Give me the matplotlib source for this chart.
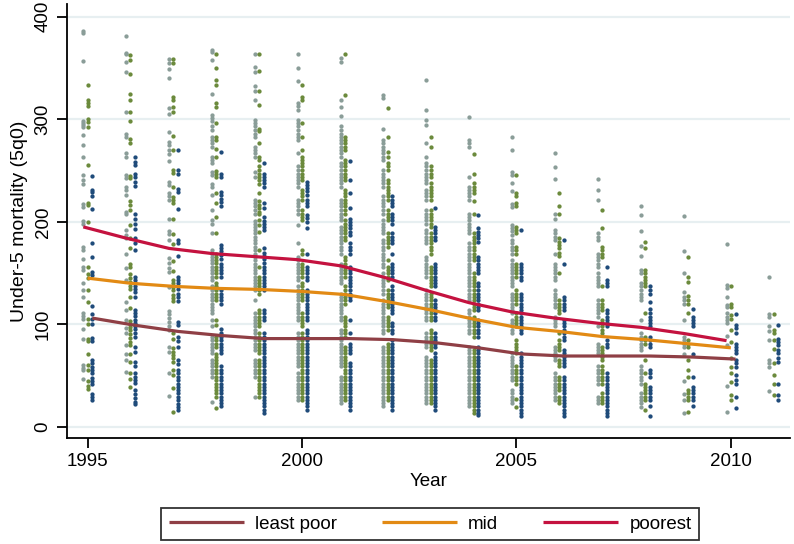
import matplotlib
matplotlib.use("Agg")
import matplotlib.pyplot as plt

years = list(range(1995, 2012))
line_years = list(range(1995, 2011))

poorest_line = [195, 184, 174, 169, 166, 163, 157, 146, 133, 121, 112, 106, 101, 97, 91, 84]
mid_line = [145, 140, 137, 135, 134, 132, 129, 122, 114, 105, 97, 93, 88, 85, 81, 77]
least_line = [106, 99, 93, 89, 86, 86, 86, 85, 82, 77, 71, 69, 69, 69, 68, 66]

poorest_pts = [
    [386,384,357,298,296,294,292,285,275,263,246,241,237,217,214,201,198,175,172,164,156,153,140,133,127,111,108,105,95,86,60,57,55,47],
    [381,365,364,356,346,307,286,283,267,263,246,243,234,231,226,210,208,192,187,184,169,155,143,122,114,104,96,91,80,71,65,53],
    [359,355,349,340,311,305,288,278,275,270,266,259,239,236,228,225,221,203,191,188,182,165,160,155,151,136,113,110,106,102,98,94,78,73,52,30],
    [368,366,358,325,304,301,298,293,290,283,280,277,273,263,260,257,249,246,237,234,226,211,202,198,189,172,169,166,163,160,156,153,150,146,143,137,133,130,127,124,120,117,114,111,104,98,88,85,81,78,75,72,65,62,59,55,52,49,24],
    [364,351,346,332,328,319,299,296,293,290,286,283,273,270,267,263,249,244,221,218,215,211,208,201,198,195,192,189,185,182,179,175,172,169,166,163,159,156,153,150,146,143,140,137,133,124,111,107,104,101,98,94,91,88,85,81,78,75,65,62,59,55,52,49,29],
    [364,350,337,316,313,309,299,296,293,290,286,283,280,267,254,251,247,244,241,238,234,221,218,215,211,208,197,179,166,163,159,156,153,150,146,143,137,133,130,127,124,120,117,114,111,107,104,91,88,85,81,78,75,72,68,65,62,59,52,49,46,42,39,36,33,29,26],
    [360,356,319,312,303,293,290,286,283,280,277,273,270,267,263,257,254,251,247,244,241,238,234,221,218,215,211,208,205,202,195,192,189,185,182,179,175,172,169,159,156,153,150,146,143,140,130,127,124,120,117,114,111,107,104,94,91,88,85,81,78,75,72,68,65,62,59,49,46,42,39,36,33,29,26,23],
    [324,321,291,280,277,273,270,267,263,260,251,247,244,241,238,234,225,221,218,215,211,208,202,198,195,192,189,182,179,175,172,169,166,163,159,156,150,146,143,140,137,133,130,124,120,117,114,111,107,104,101,98,94,91,78,75,72,68,65,62,59,55,52,49,46,42,39,36,33,29,26,23,20],
    [338,309,299,294,277,263,257,254,251,247,244,241,238,231,228,225,221,211,208,205,202,198,192,189,185,182,179,166,163,159,156,153,150,146,133,130,127,124,120,117,114,111,107,104,91,88,85,81,78,68,65,62,59,55,52,49,46,42,39,36,33,29,26,23],
    [302,280,277,273,244,234,231,228,225,221,208,205,202,198,195,192,189,179,175,172,169,166,163,159,156,153,150,146,143,140,137,133,130,127,124,114,111,107,104,101,98,94,91,78,75,72,68,65,62,59,55,52,49,46,42,39,36,33,29,26,23,20],
    [283,270,249,246,238,230,217,214,197,194,191,187,182,179,175,172,169,163,159,156,153,150,146,143,140,137,130,127,124,120,117,114,111,104,101,98,94,91,72,68,65,62,59,55,52,49,46,36,33,29,26,23],
    [267,253,242,208,203,192,189,185,182,169,159,156,153,150,146,143,133,130,127,124,120,117,107,104,101,98,78,75,72,68,65,52,49,46,42,39,36,33,29,26],
    [242,231,221,189,185,182,169,166,163,159,156,150,146,143,140,137,124,120,117,114,111,107,98,81,78,75,72,59,55,52,49,46,42,29,26,23],
    [215,207,191,176,167,153,150,140,137,133,130,127,124,104,91,88,85,81,78,75,59,55,52,49,46,42,33,29,26,23,19],
    [206,171,150,131,127,124,120,104,88,85,81,78,71,45,32,26,13],
    [178,138,135,127,119,117,111,107,104,101,89,80,40,14],
    [146,110,107,98,93,85,65,62,58,35],
]

mid_pts = [
    [333,319,316,313,300,297,292,255,218,216,200,156,149,145,133,122,105,100,86,84,71,60,55,45,40,37],
    [363,358,344,325,319,307,298,281,277,245,243,220,216,211,197,184,174,159,156,149,145,141,137,134,127,116,103,100,97,94,90,87,83,80,71,63,52,47,39],
    [359,355,322,319,312,307,284,270,251,248,234,224,221,218,203,188,178,162,152,143,140,136,133,129,126,123,91,86,77,73,70,67,63,55,50,38,14],
    [364,350,338,333,316,312,296,283,280,271,263,250,247,244,228,218,205,189,169,166,163,160,156,153,150,146,140,137,133,130,127,124,104,99,88,85,81,78,71,68,65,62,59,55,52,49,46,42,39,36,33,29,18],
    [364,347,328,314,291,289,277,263,260,254,251,247,244,241,237,228,220,216,213,210,208,202,197,190,172,156,146,143,140,137,133,130,114,111,107,104,101,98,91,88,85,81,78,75,72,65,62,59,55,52,49,46,42,39,36,33,29],
    [333,322,319,296,283,270,263,260,257,254,251,247,244,241,231,228,225,221,211,208,205,202,172,169,159,156,153,150,146,140,137,133,130,127,124,111,107,104,101,98,91,88,85,81,78,75,72,68,65,62,59,55,52,49,46,42,39,36,33,29,26],
    [364,324,283,280,277,273,270,260,257,254,251,247,244,241,231,228,225,221,218,215,211,208,202,198,195,192,189,185,182,166,163,159,156,153,150,146,137,133,130,127,124,120,107,104,101,98,94,91,88,78,75,72,68,65,62,59,55,52,49,46,42,39,36,33,29,26],
    [311,283,268,263,257,254,251,241,238,234,231,228,225,221,211,208,205,202,189,185,182,179,175,163,156,153,150,146,143,133,130,127,124,120,117,107,104,101,98,94,81,78,75,72,68,65,62,59,55,52,49,46,42,39,36,33,29,26],
    [283,273,254,251,247,244,238,234,231,228,225,221,211,208,205,202,198,195,189,185,182,179,175,172,169,156,153,150,146,143,140,137,130,127,124,120,117,114,111,107,104,94,91,88,85,81,78,75,65,62,59,55,52,49,46,42,39,36,33,29,26,23],
    [266,247,238,234,231,228,220,208,189,185,182,179,175,172,169,166,163,150,146,143,140,137,133,130,127,124,120,117,114,107,104,101,98,94,91,88,75,72,68,65,62,59,55,52,49,46,42,39,36,33,29,26,23,20,16,13],
    [246,228,225,218,215,195,192,189,175,172,169,159,156,153,150,146,133,130,127,124,120,111,107,104,101,98,85,81,78,75,72,59,55,52,49,46,42,27,19],
    [228,215,208,184,180,177,174,170,167,150,124,120,117,114,111,91,85,81,78,75,65,62,59,49,46,42,39,36,29,26,23],
    [211,194,175,172,169,166,137,124,120,117,114,104,101,98,94,91,78,75,72,68,65,59,55,52,49,46,42,33,29,26,23],
    [180,174,153,150,146,143,140,137,111,88,85,81,65,52,42,39,36,33,29,26,16],
    [166,146,141,128,124,120,111,85,81,78,65,55,49,36,33,29,26,14],
    [137,120,117,109,105,94,83,67,58,52,44,31,26],
    [110,94,91,85,76,62,50,42,31],
]

least_pts = [
    [245,231,229,225,212,179,166,151,148,118,110,105,100,87,84,65,62,58,55,52,48,45,42,32,29,26],
    [263,258,255,247,244,239,235,208,203,198,193,184,179,172,146,143,140,137,134,131,127,114,111,108,104,101,98,95,91,88,78,73,63,59,52,49,46,43,36,32,28,24,22],
    [270,251,247,232,229,212,182,179,167,146,143,140,137,134,130,127,123,102,99,88,84,78,65,61,55,52,49,46,42,39,36,33,29,26,22,19,16],
    [268,247,244,229,226,222,219,215,177,174,171,168,164,159,156,153,150,146,133,130,127,124,120,95,91,88,85,81,78,75,72,59,55,52,49,46,42,39,36,33,29,26,23,20],
    [257,247,244,241,238,234,218,213,205,201,198,195,192,174,170,167,164,160,156,153,150,146,143,140,137,133,114,111,107,104,91,88,85,81,78,75,72,68,65,62,59,55,52,49,46,42,39,36,33,29,26,23,20,16,13],
    [239,236,233,230,226,221,218,215,207,204,200,194,169,156,153,150,146,143,133,130,127,124,120,117,114,111,107,104,94,91,88,85,81,78,75,72,68,65,62,59,55,52,49,46,42,39,36,33,29,26,23,20,16],
    [259,241,228,213,203,200,197,194,190,187,179,175,172,169,156,153,150,146,143,140,137,133,130,127,124,104,91,81,78,75,72,62,59,55,52,49,46,42,39,36,33,29,26,23,20,16],
    [225,221,218,215,208,205,202,198,189,185,182,179,169,159,156,153,150,146,137,133,130,127,124,120,117,114,111,101,98,94,91,85,81,78,75,72,68,65,62,59,55,52,49,46,42,39,36,33,29,26,23,20,16],
    [213,195,192,189,185,182,159,156,153,150,146,143,140,137,124,120,117,114,111,107,104,91,88,85,81,78,72,68,65,62,59,55,52,49,46,42,39,36,33,29,26,23,20,16],
    [207,194,190,187,184,180,166,163,159,156,153,150,140,137,133,130,127,124,120,117,114,104,101,98,94,91,88,78,75,72,68,65,62,59,55,52,49,46,42,39,36,33,29,26,23,20,16,13,11],
    [192,159,156,153,150,146,143,130,127,124,120,117,114,111,107,104,101,98,94,91,72,68,65,62,59,55,52,49,46,42,39,36,33,29,26,23,20,16,13,10],
    [182,159,127,124,120,117,114,104,101,98,94,91,88,85,75,72,68,65,62,59,49,46,42,39,36,33,29,26,23,20,16,13,10],
    [156,143,140,137,114,111,107,104,101,98,85,81,78,52,49,46,42,39,36,33,29,26,23,20,16,13,10],
    [137,133,130,122,115,111,107,104,101,98,88,85,81,78,55,52,49,39,36,33,29,26,20,10],
    [115,107,104,101,98,71,49,39,36,33,29,26,20],
    [110,99,96,91,81,78,75,72,65,62,58,50,46,42,29,18],
    [99,86,83,80,75,72,67,63,42,31,26],
]

x_ticks = [1995, 2000, 2005, 2010]
y_ticks = [0, 100, 200, 300, 400]
legend_labels = ["least poor", "mid", "poorest"]

# ---- styling ----
plt.rcParams["font.family"] = ["Liberation Sans", "DejaVu Sans"]
fs = 13.5

c_grey = "#8a9d98"
c_green = "#6b8a3c"
c_blue = "#1f4b7a"
c_least = "#8f3f45"
c_mid = "#e28a14"
c_poor = "#c4123f"

fig = plt.figure(figsize=(7.94, 5.44), dpi=100)
ax = fig.add_axes([67 / 794, (544 - 438) / 544, (790 - 67) / 794, (438 - 4) / 544])

off = {"poorest": -0.1, "mid": 0.0, "least": 0.11}
groups = [(poorest_pts, off["poorest"], c_grey),
          (mid_pts, off["mid"], c_green),
          (least_pts, off["least"], c_blue)]
for pts, o, col in groups:
    xs, ys = [], []
    for yr, vals in zip(years, pts):
        xs.extend([yr + o] * len(vals))
        ys.extend(vals)
    ax.scatter(xs, ys, s=9.5, color=col, linewidths=0, zorder=3)

lw = 2.3
h1, = ax.plot([y + off["least"] for y in line_years], least_line, color=c_least, lw=lw, zorder=4, solid_capstyle="butt")
h2, = ax.plot([y + off["mid"] for y in line_years], mid_line, color=c_mid, lw=lw, zorder=4, solid_capstyle="butt")
h3, = ax.plot([y + off["poorest"] for y in line_years], poorest_line, color=c_poor, lw=lw, zorder=4, solid_capstyle="butt")

ax.set_xlim(1994.52, 2011.38)
ax.set_ylim(-11, 412.5)
ax.set_xticks(x_ticks)
ax.set_yticks(y_ticks)
ax.set_xticklabels([str(t) for t in x_ticks], fontsize=fs)
ax.set_yticklabels([str(t) for t in y_ticks], fontsize=fs, rotation=90, va="center")
ax.yaxis.grid(True, color="#e7eff1", lw=1.6, zorder=0)
ax.set_axisbelow(True)
for s in ["top", "right"]:
    ax.spines[s].set_visible(False)
for s in ["left", "bottom"]:
    ax.spines[s].set_linewidth(1.3)
ax.tick_params(axis="both", length=7, width=1.3, direction="out", pad=4)
ax.set_xlabel("Year", fontsize=fs, labelpad=2)
ax.set_ylabel("Under-5 mortality (5q0)", fontsize=fs + 0.5, labelpad=5)

leg = fig.legend([h1, h2, h3], legend_labels, loc="center", bbox_to_anchor=(430 / 794, 1 - 524 / 544),
                 ncol=3, frameon=True, fancybox=False, fontsize=fs, handlelength=4.0,
                 columnspacing=2.4, handletextpad=0.6, borderpad=0.4)
leg.get_frame().set_edgecolor("black")
leg.get_frame().set_linewidth(1.3)

fig.savefig("out.png", dpi=100)
